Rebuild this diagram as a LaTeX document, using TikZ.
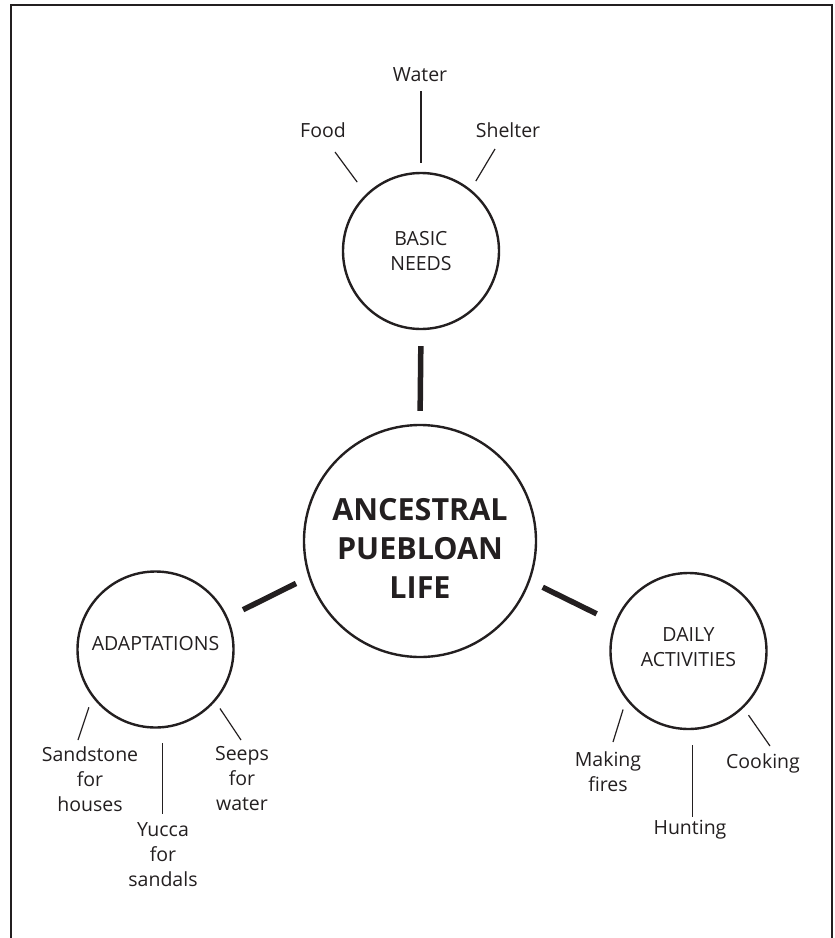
\documentclass[tikz,border=0pt]{standalone}
\usepackage{fontspec}
\setmainfont{Open Sans}
\usetikzlibrary{calc}
\definecolor{ink}{HTML}{231F20}

\begin{document}
\begin{tikzpicture}[x=1pt,y=-1pt,
  every node/.style={text=ink, align=center, font=\fontsize{19.5}{25}\selectfont},
  bubble/.style={draw=ink, circle, line width=2.4pt, inner sep=0pt, minimum size=156pt},
  hub/.style={bubble, minimum size=232pt},
  hubtext/.style={font=\fontsize{30.5}{39}\selectfont\bfseries},
  spoke/.style={draw=ink, line width=5.5pt},
  leader/.style={draw=ink, line width=1.2pt}]
\useasboundingbox (0,0) rectangle (835,938);
\draw[ink, line width=2.2pt] (11,938) -- (11,5) -- (832,5) -- (832,938);

\node[hub, label={[hubtext, yshift=-7pt]center:{ANCESTRAL\\PUEBLOAN\\LIFE}}] (life) at (420,541) {};
\node[bubble] (needs) at (421,251) {BASIC\\NEEDS};
\node[bubble, label={[yshift=6pt]center:ADAPTATIONS}] (adapt) at (155.5,649.5) {};
\node[bubble, label={[yshift=4pt]center:{DAILY\\ACTIVITIES}}] (daily) at (688.5,651) {};

\draw[spoke, shorten <=13pt, shorten >=16pt] (life.90) -- (needs.270);
\draw[spoke, shorten <=14pt, shorten >=17pt] (life.198) -- (adapt.24);
\draw[spoke, shorten <=14pt, shorten >=20pt] (life.340) -- (daily.159);

\node (food) at (323,130) {Food};
\node (water) at (420,75) {Water};
\node (shelter) at (508,130) {Shelter};
\coordinate (foodtip) at (335,152);
\path (needs.90) ++(0,-81) coordinate (watertip);
\coordinate (sheltertip) at (495,149);
\draw[leader, shorten <=14.8pt] (needs.134) -- (foodtip);
\draw[leader, shorten <=9pt] (needs.90) -- (watertip);
\draw[leader, shorten <=9.7pt] (needs.51) -- (sheltertip);

\node (sand) at (90,779) {Sandstone\\for\\houses};
\node (yucca) at (163,855) {Yucca\\for\\sandals};
\node (seeps) at (242,779) {Seeps\\for\\water};
\coordinate (sandtip) at (78,740);
\path (adapt.275) ++(0,86) coordinate (yuccatip);
\coordinate (seepstip) at (241,740);
\draw[leader, shorten <=10.6pt] (adapt.217) -- (sandtip);
\draw[leader, shorten <=15pt] (adapt.275) -- (yuccatip);
\draw[leader, shorten <=8.5pt] (adapt.319) -- (seepstip);

\node (fires) at (608,772) {Making\\fires};
\node (hunt) at (690,830) {Hunting};
\node (cook) at (763,763) {Cooking};
\coordinate (firestip) at (613,742);
\path (daily.273) ++(0,87) coordinate (hunttip);
\coordinate (cooktip) at (770,746);
\draw[leader, shorten <=10.2pt] (daily.218) -- (firestip);
\draw[leader, shorten <=15pt] (daily.273) -- (hunttip);
\draw[leader, shorten <=8.7pt] (daily.314) -- (cooktip);
\end{tikzpicture}
\end{document}
